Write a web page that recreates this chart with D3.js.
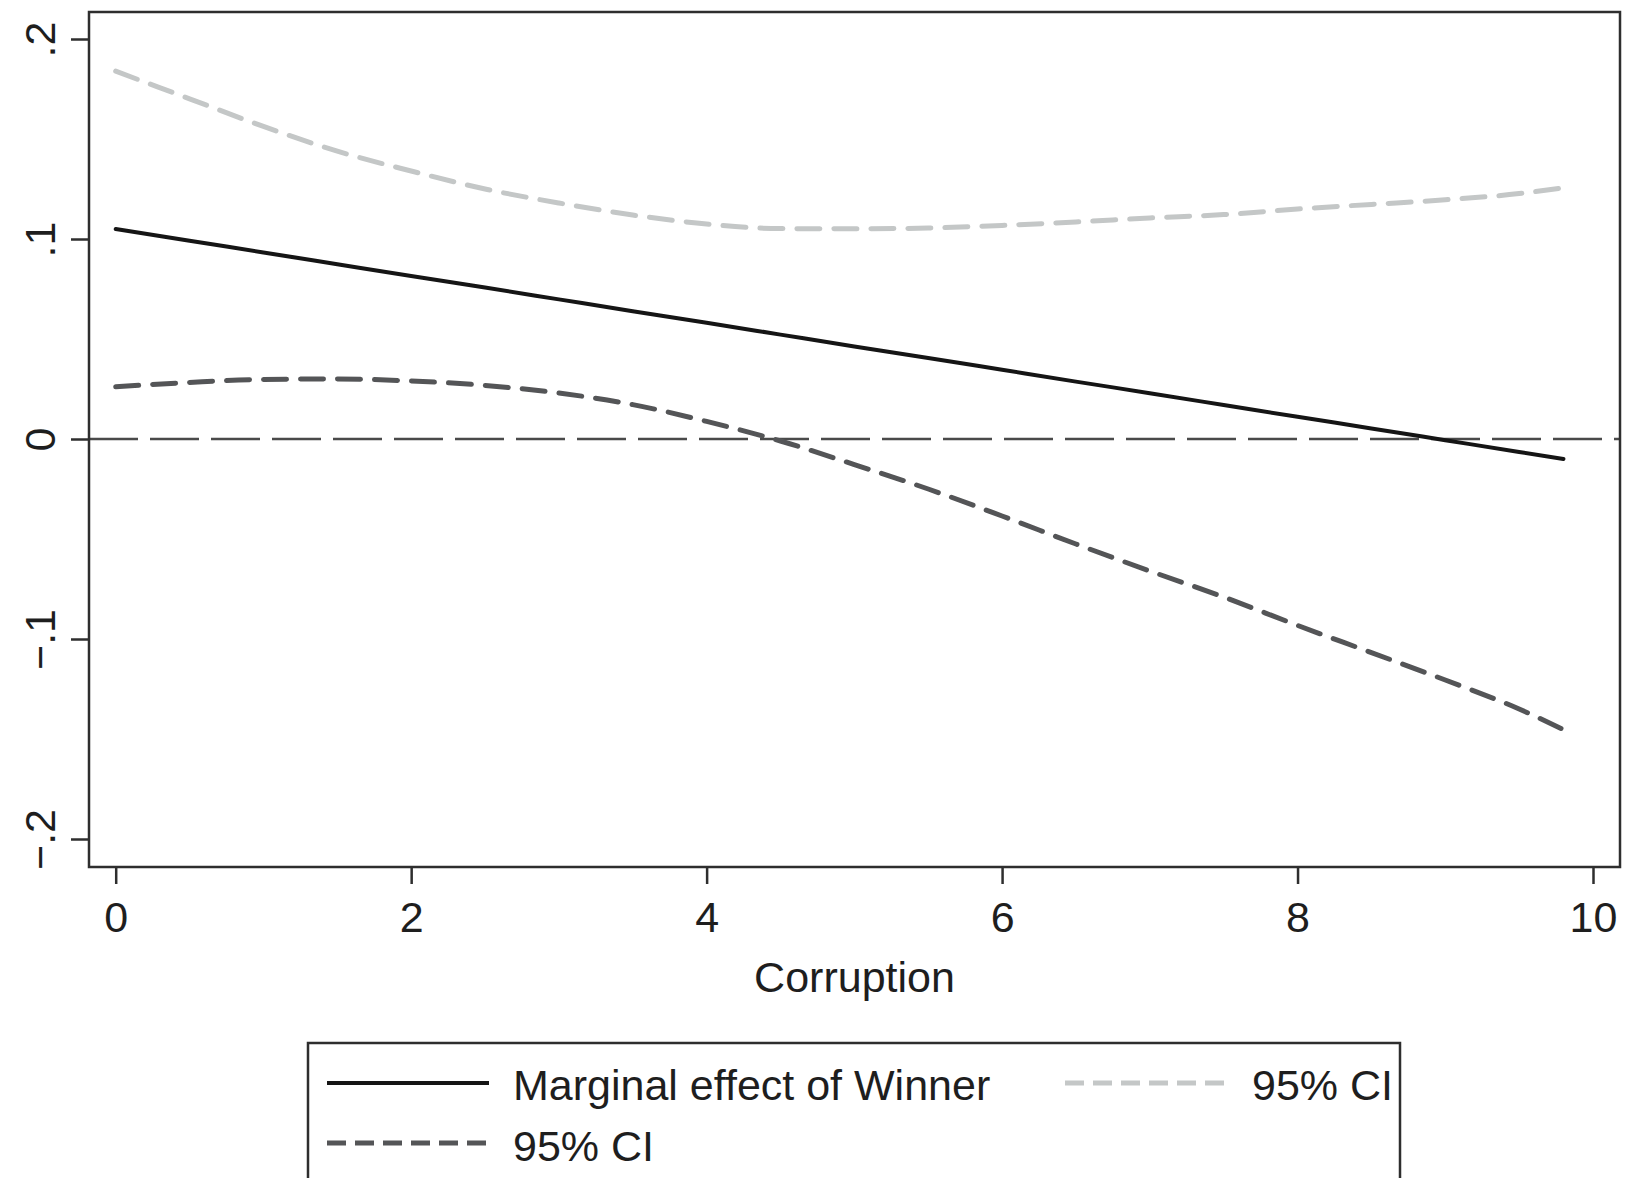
<!DOCTYPE html>
<html>
<head>
<meta charset="utf-8">
<script src="https://cdn.jsdelivr.net/npm/d3@7"></script>
<style>
  html, body { margin: 0; padding: 0; background: #ffffff; }
  svg { display: block; }
  text { font-family: "Liberation Sans", Arial, Helvetica, sans-serif; fill: #1e1e1e; }
</style>
</head>
<body>
<svg id="chart" width="1643" height="1178"></svg>
<script>
// ---- data ----
const corruption = [0, 0.5, 1, 1.5, 2, 2.5, 3, 3.5, 4, 4.5, 5, 5.5, 6, 6.5, 7, 7.5, 8, 8.5, 9, 9.5, 9.8];
const marginalEffect = [0.1050, 0.0991, 0.0933, 0.0874, 0.0815, 0.0757, 0.0698, 0.0639, 0.0581, 0.0522, 0.0463,
                        0.0405, 0.0346, 0.0287, 0.0229, 0.0170, 0.0111, 0.0053, -0.0006, -0.0065, -0.0100];
const ciUpper = [0.1839, 0.1701, 0.1563, 0.1439, 0.1340, 0.1250, 0.1180, 0.1120, 0.1075, 0.1052, 0.1051,
                 0.1055, 0.1068, 0.1085, 0.1105, 0.1122, 0.1150, 0.1173, 0.1196, 0.1227, 0.1256];
const ciLower = [0.0261, 0.0283, 0.0298, 0.0300, 0.0290, 0.0268, 0.0230, 0.0172, 0.0088, -0.0010, -0.0128,
                 -0.0250, -0.0385, -0.0525, -0.0660, -0.0790, -0.0932, -0.1068, -0.1205, -0.1350, -0.1453];
const xTicks = [0, 2, 4, 6, 8, 10];
const yTicks = [-0.2, -0.1, 0, 0.1, 0.2];
const yTickLabels = ["\u2212.2", "\u2212.1", "0", ".1", ".2"];
const xTitle = "Corruption";
const legendLabels = ["Marginal effect of Winner", "95% CI", "95% CI"];

// ---- layout ----
const svg = d3.select("#chart");
const frame = { left: 89, top: 12, right: 1620, bottom: 867 };
const x = d3.scaleLinear().domain([0, 10]).range([115.7, 1593]);
const y = d3.scaleLinear().domain([-0.2, 0.2]).range([839, 39]);

const colors = { me: "#151515", upper: "#c4c7c7", lower: "#545557", axis: "#2e2e2e", zero: "#4a4a4a" };

svg.append("rect").attr("width", 1643).attr("height", 1178).attr("fill", "#ffffff");

// zero reference line
svg.append("line")
  .attr("x1", frame.left).attr("x2", frame.right)
  .attr("y1", y(0)).attr("y2", y(0))
  .attr("stroke", colors.zero).attr("stroke-width", 2.4)
  .attr("stroke-dasharray", "49,12");

// series
const series = [
  { vals: ciUpper, color: colors.upper, width: 5, dash: "23,14", cap: "round" },
  { vals: ciLower, color: colors.lower, width: 5, dash: "23,14", cap: "round" },
  { vals: marginalEffect, color: colors.me, width: 4, dash: null, cap: "round" }
];
const line = d3.line().x(d => x(d[0])).y(d => y(d[1])).curve(d3.curveMonotoneX);
series.forEach(s => {
  svg.append("path")
    .datum(corruption.map((c, i) => [c, s.vals[i]]))
    .attr("d", line)
    .attr("fill", "none")
    .attr("stroke", s.color)
    .attr("stroke-width", s.width)
    .attr("stroke-dasharray", s.dash)
    .attr("stroke-linecap", s.cap);
});

// frame
svg.append("rect")
  .attr("x", frame.left).attr("y", frame.top)
  .attr("width", frame.right - frame.left).attr("height", frame.bottom - frame.top)
  .attr("fill", "none").attr("stroke", colors.axis).attr("stroke-width", 2.5);

// x axis
const xAxis = svg.append("g")
  .attr("transform", `translate(0,${frame.bottom})`)
  .call(d3.axisBottom(x).tickValues(xTicks).tickFormat(d3.format("d")).tickSize(17).tickPadding(0));
xAxis.select(".domain").remove();
xAxis.selectAll(".tick line").attr("stroke", colors.axis).attr("stroke-width", 2.5);
xAxis.selectAll(".tick text")
  .attr("y", 65).attr("dy", 0)
  .style("font-size", "43px").style("fill", "#1e1e1e");

// y axis
const yAxis = svg.append("g")
  .attr("transform", `translate(${frame.left},0)`)
  .call(d3.axisLeft(y).tickValues(yTicks).tickFormat((d, i) => yTickLabels[i]).tickSize(18));
yAxis.select(".domain").remove();
yAxis.selectAll(".tick line").attr("stroke", colors.axis).attr("stroke-width", 2.5);
yAxis.selectAll(".tick text")
  .attr("transform", "rotate(-90)")
  .attr("x", 0).attr("y", -34).attr("dy", 0)
  .attr("text-anchor", "middle")
  .style("font-size", "43px").style("fill", "#1e1e1e");

// x title
svg.append("text")
  .attr("x", (frame.left + frame.right) / 2).attr("y", 992)
  .attr("text-anchor", "middle")
  .style("font-size", "43px")
  .text(xTitle);

// legend
const leg = svg.append("g");
leg.append("rect")
  .attr("x", 308).attr("y", 1043).attr("width", 1092).attr("height", 200)
  .attr("fill", "#ffffff").attr("stroke", colors.axis).attr("stroke-width", 2.5);

const legendItems = [
  { label: legendLabels[0], color: colors.me, width: 4, dash: null, cap: "butt", x0: 327, x1: 489, tx: 513, ly: 1083, ty: 1100 },
  { label: legendLabels[1], color: colors.upper, width: 5, dash: "19,9", cap: "butt", x0: 1065, x1: 1228, tx: 1252, ly: 1083, ty: 1100 },
  { label: legendLabels[2], color: colors.lower, width: 5, dash: "19,9", cap: "butt", x0: 327, x1: 489, tx: 513, ly: 1143, ty: 1161 }
];
legendItems.forEach(it => {
  leg.append("line")
    .attr("x1", it.x0).attr("x2", it.x1).attr("y1", it.ly).attr("y2", it.ly)
    .attr("stroke", it.color).attr("stroke-width", it.width)
    .attr("stroke-dasharray", it.dash).attr("stroke-linecap", it.cap);
  leg.append("text")
    .attr("x", it.tx).attr("y", it.ty)
    .style("font-size", "43px")
    .text(it.label);
});
</script>
</body>
</html>
